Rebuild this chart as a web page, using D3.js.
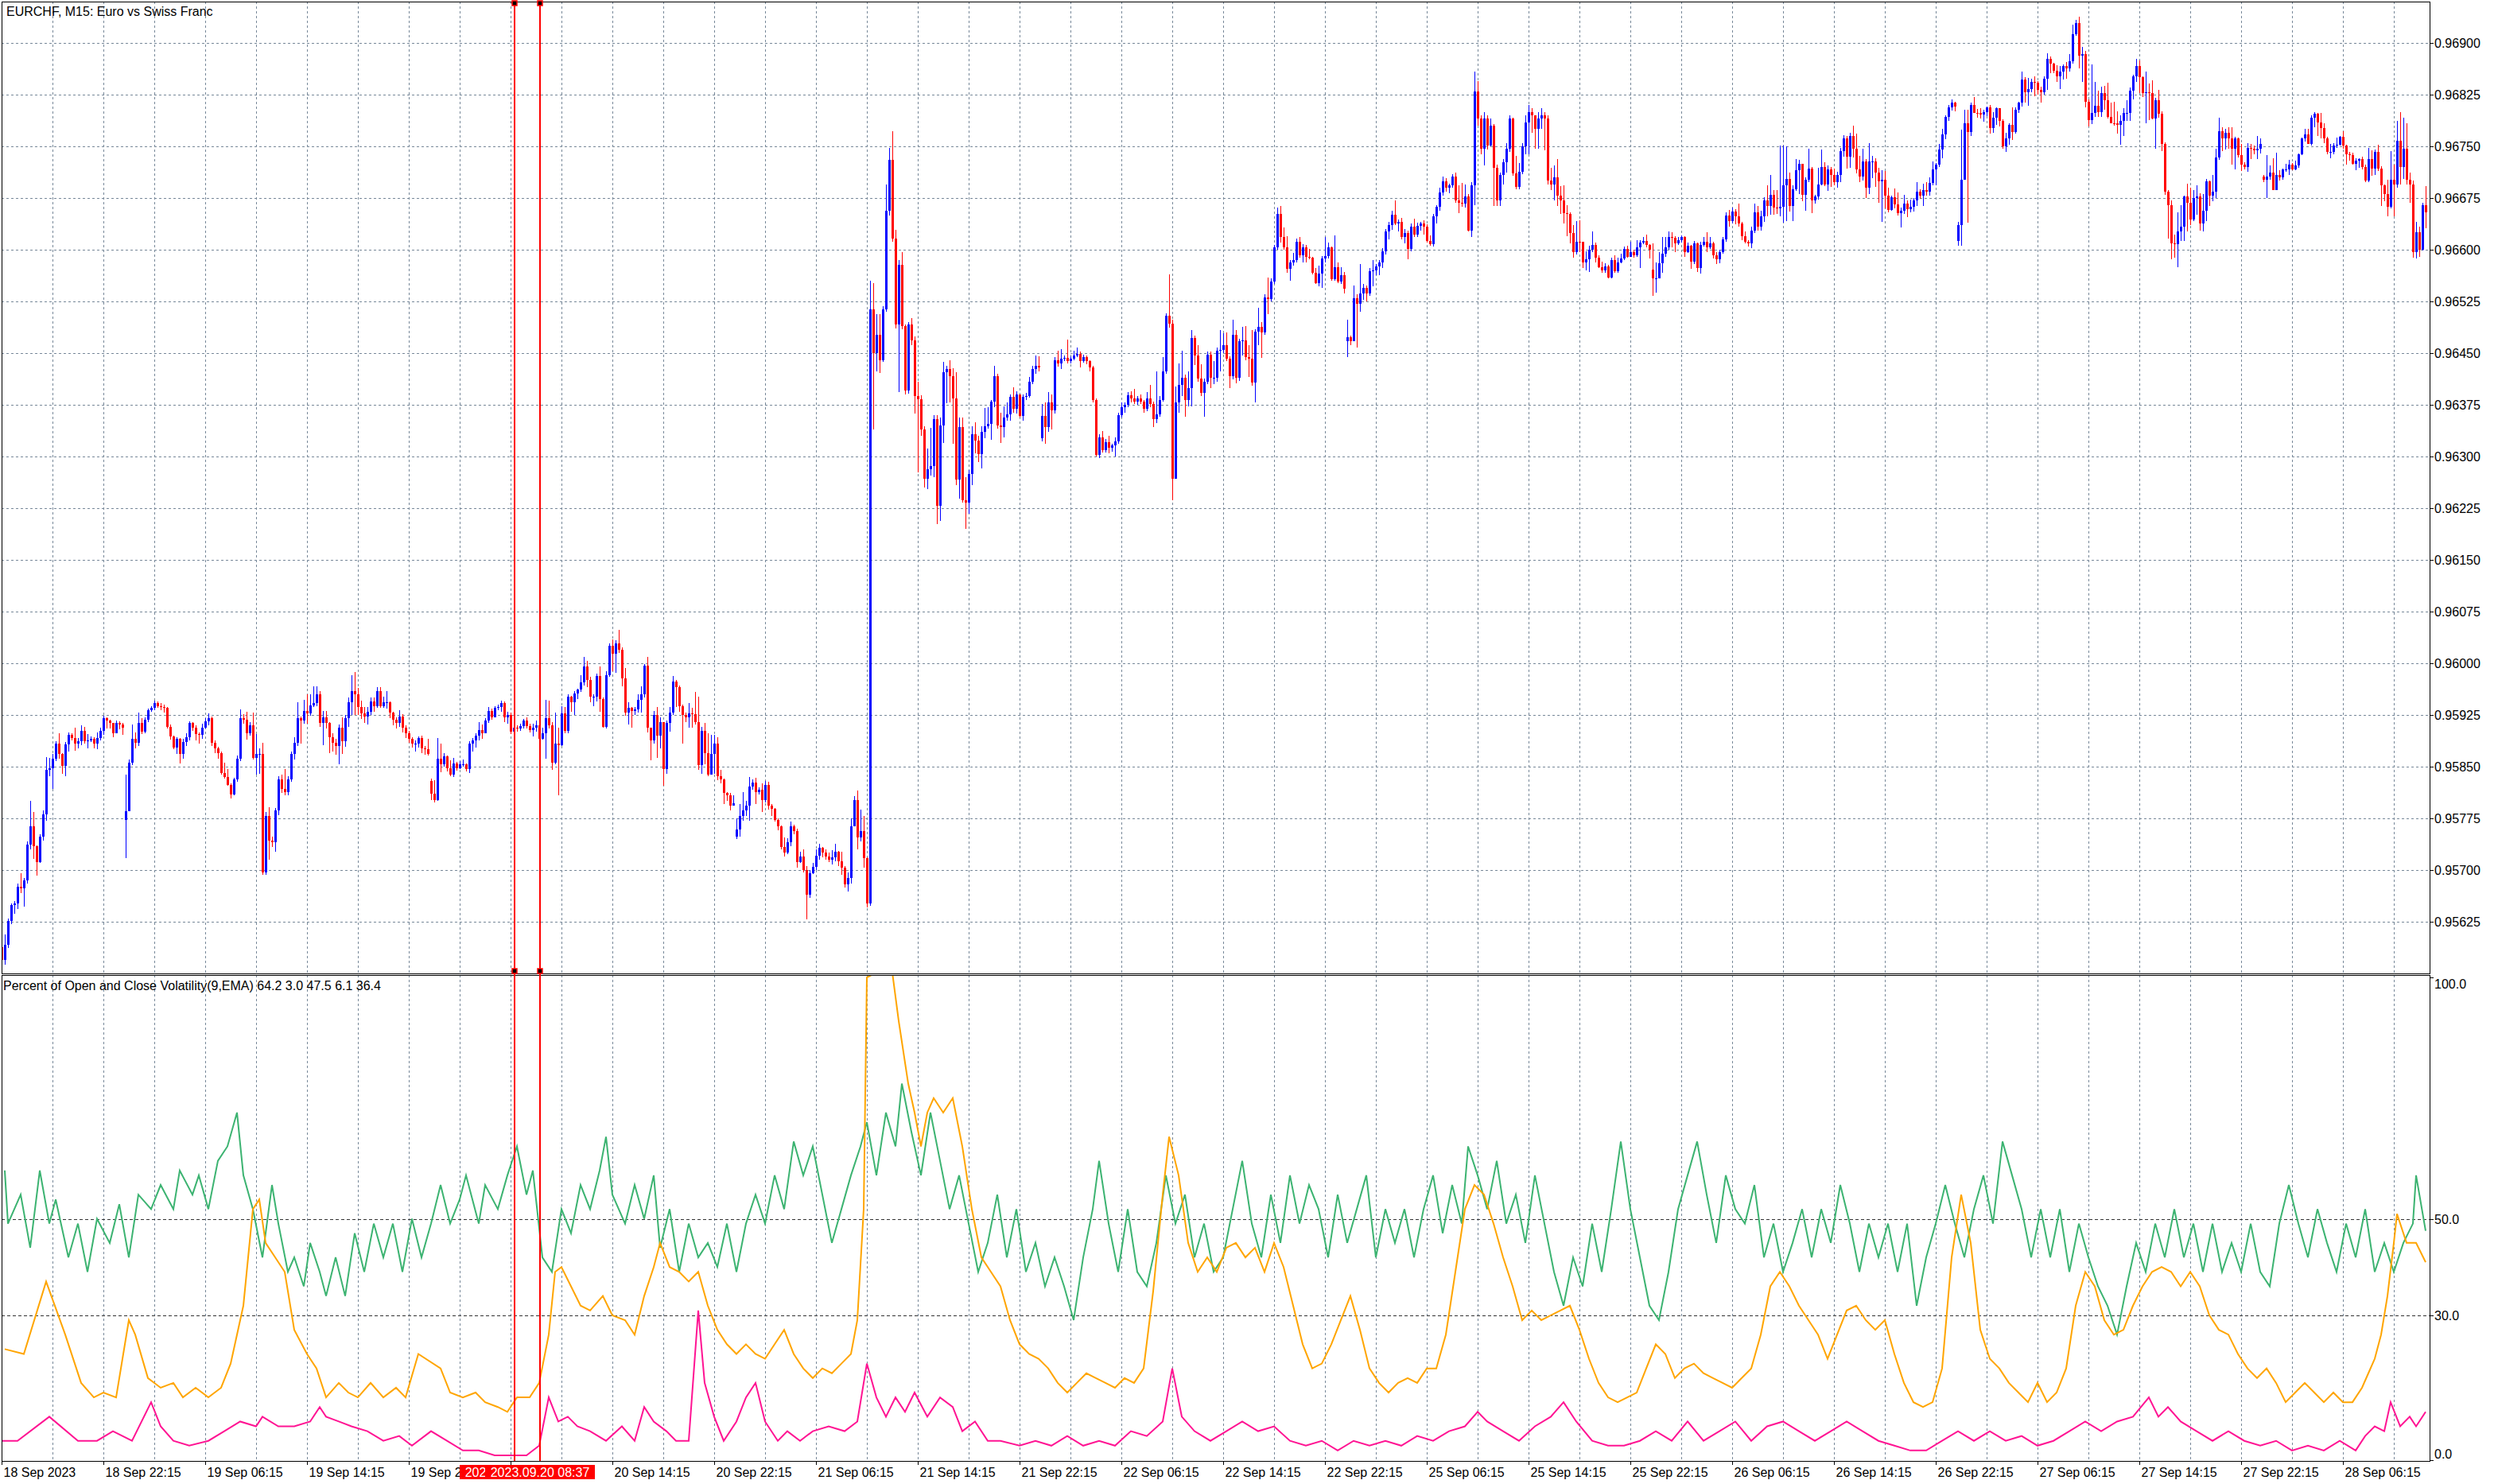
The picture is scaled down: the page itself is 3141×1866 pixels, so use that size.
<!DOCTYPE html>
<html><head><meta charset="utf-8">
<script src="https://cdn.jsdelivr.net/npm/d3@7"></script>
<style>body{margin:0;background:#fff;overflow:hidden} text{font-family:"Liberation Sans",Arial,sans-serif;font-size:16px}</style>
</head><body><svg id="c" width="3141" height="1866" xmlns="http://www.w3.org/2000/svg"></svg>
<script>
// prices stored as offsets in 0.00001 units above 0.95000
const closeP = [570,592,626,649,652,676,673,685,737,764,735,712,748,781,845,848,862,883,868,851,882,896,892,884,887,902,887,888,890,883,892,902,920,917,913,899,914,911,906,785,856,890,885,914,901,918,932,935,942,938,937,935,908,894,878,890,868,886,893,913,907,897,896,907,916,920,885,877,870,841,835,824,810,831,862,920,918,899,910,863,868,868,697,779,743,740,786,832,818,813,832,868,885,920,917,931,927,939,942,955,914,922,913,893,885,880,907,887,920,943,960,955,937,927,923,930,945,938,960,938,943,944,928,918,913,923,907,899,890,883,884,892,876,875,868,811,802,861,853,865,848,839,855,848,853,854,847,883,888,895,903,899,917,931,922,935,937,942,921,925,901,907,905,909,917,909,903,907,910,890,898,920,910,856,884,881,927,902,951,943,956,962,972,995,976,951,951,981,948,908,983,1025,1014,1029,1020,978,928,935,931,933,947,955,997,906,888,925,895,915,846,913,928,974,965,938,925,922,927,926,915,852,902,870,838,869,884,836,831,812,808,793,797,759,779,787,793,821,827,813,817,802,824,793,789,773,763,734,725,740,763,756,712,720,700,664,695,705,721,732,725,720,715,718,726,713,704,679,688,764,801,747,757,717,651,1514,1450,1476,1440,1514,1656,1730,1616,1491,1578,1489,1396,1491,1468,1388,1383,1339,1268,1281,1286,1354,1228,1345,1422,1427,1416,1384,1266,1343,1236,1233,1275,1332,1323,1303,1336,1344,1347,1380,1416,1345,1343,1357,1361,1386,1369,1390,1359,1386,1388,1408,1427,1432,1429,1359,1343,1378,1367,1440,1435,1442,1443,1438,1442,1446,1449,1439,1444,1438,1429,1382,1302,1328,1309,1321,1313,1316,1322,1360,1371,1375,1389,1384,1380,1384,1380,1369,1384,1376,1354,1361,1382,1424,1504,1493,1268,1379,1404,1414,1382,1399,1472,1446,1413,1392,1409,1448,1414,1414,1454,1455,1461,1442,1416,1476,1414,1467,1469,1444,1442,1407,1481,1488,1480,1531,1529,1554,1604,1652,1619,1604,1572,1581,1585,1612,1592,1604,1590,1588,1567,1551,1565,1587,1591,1604,1557,1575,1554,1563,1543,1473,1467,1530,1522,1536,1545,1537,1569,1570,1576,1582,1598,1627,1636,1651,1638,1640,1619,1624,1601,1634,1622,1635,1638,1633,1613,1608,1648,1662,1683,1699,1690,1693,1706,1672,1668,1667,1677,1628,1693,1830,1790,1747,1790,1751,1780,1719,1672,1709,1727,1747,1790,1711,1691,1713,1750,1785,1800,1795,1775,1790,1795,1790,1700,1695,1705,1678,1671,1653,1652,1624,1597,1612,1611,1581,1586,1600,1607,1588,1575,1570,1576,1560,1585,1569,1582,1587,1601,1590,1597,1592,1604,1610,1613,1607,1600,1558,1558,1580,1594,1604,1618,1617,1609,1614,1618,1597,1606,1583,1609,1573,1607,1612,1603,1609,1592,1586,1596,1615,1650,1641,1655,1649,1638,1620,1612,1609,1628,1654,1633,1648,1672,1663,1680,1661,1660,1662,1693,1703,1664,1688,1715,1725,1680,1701,1718,1672,1677,1695,1720,1695,1717,1708,1698,1709,1743,1761,1735,1765,1747,1717,1706,1728,1690,1728,1728,1712,1699,1702,1678,1658,1676,1666,1653,1657,1667,1659,1662,1671,1684,1679,1687,1684,1697,1717,1724,1745,1767,1793,1807,1814,1808,1636,1702,1783,1771,1810,1799,1798,1796,1800,1807,1777,1792,1805,1787,1750,1762,1781,1771,1803,1813,1847,1828,1833,1844,1842,1832,1828,1848,1877,1870,1860,1852,1859,1867,1863,1873,1913,1929,1881,1884,1815,1788,1798,1809,1800,1827,1817,1793,1784,1783,1781,1787,1798,1798,1831,1851,1867,1850,1827,1829,1827,1790,1817,1797,1754,1684,1665,1609,1608,1627,1634,1677,1668,1644,1675,1677,1638,1657,1699,1678,1684,1734,1772,1762,1770,1761,1747,1761,1737,1723,1720,1748,1747,1744,1747,1753,1701,1706,1712,1687,1709,1705,1716,1717,1724,1717,1722,1738,1761,1767,1754,1791,1797,1785,1777,1762,1742,1742,1751,1752,1764,1751,1738,1737,1725,1729,1731,1720,1700,1731,1718,1742,1718,1694,1681,1662,1702,1695,1758,1720,1747,1702,1695,1597,1625,1600,1665,1654];
const highP = [590,607,630,652,655,680,695,689,741,800,784,736,752,786,864,863,868,887,898,870,886,900,898,906,892,910,908,897,894,893,900,906,924,922,918,914,917,916,913,839,860,911,900,929,920,922,934,938,946,945,942,940,936,911,895,893,892,890,898,916,915,910,900,912,920,927,923,888,879,872,856,846,826,834,866,933,926,930,915,929,897,877,885,784,791,748,790,836,839,847,836,872,893,943,923,947,955,955,966,966,960,931,931,915,898,890,911,921,925,950,983,987,964,946,936,937,950,950,965,965,951,960,945,930,922,932,926,910,902,893,888,894,895,880,890,833,830,891,884,870,866,859,863,857,858,860,855,887,892,899,915,911,920,937,934,938,940,946,945,930,928,910,910,912,919,922,912,912,917,913,907,947,946,915,929,906,938,937,955,953,960,963,983,1009,1004,980,955,985,995,950,988,1029,1035,1033,1048,1023,993,943,937,937,955,966,999,1009,907,931,937,921,915,917,937,982,976,968,940,929,942,935,958,951,908,914,898,896,896,893,845,833,813,812,809,775,796,813,800,835,832,834,820,826,829,828,796,790,775,765,747,746,770,766,760,726,730,706,700,710,730,738,733,730,725,729,738,728,727,706,697,775,807,815,788,778,718,1555,1551,1506,1507,1518,1695,1748,1772,1629,1585,1596,1492,1495,1501,1474,1408,1389,1344,1311,1341,1360,1360,1356,1437,1431,1440,1428,1422,1357,1357,1270,1280,1344,1350,1330,1344,1370,1372,1382,1431,1420,1364,1373,1379,1390,1400,1395,1390,1390,1392,1415,1431,1446,1445,1376,1378,1394,1390,1444,1454,1456,1446,1470,1445,1454,1458,1452,1448,1446,1440,1431,1384,1332,1337,1325,1330,1319,1328,1364,1378,1378,1394,1395,1398,1388,1390,1382,1394,1404,1380,1424,1388,1444,1508,1564,1498,1401,1435,1454,1419,1424,1483,1475,1461,1434,1413,1452,1452,1438,1458,1484,1479,1480,1445,1499,1484,1471,1488,1489,1462,1483,1485,1516,1495,1535,1560,1558,1607,1661,1664,1632,1620,1585,1595,1616,1619,1608,1607,1601,1590,1574,1577,1591,1618,1610,1605,1621,1581,1575,1568,1498,1475,1548,1535,1579,1550,1548,1574,1585,1579,1585,1602,1630,1640,1656,1671,1644,1646,1630,1628,1638,1645,1639,1640,1643,1637,1621,1652,1665,1690,1706,1704,1696,1710,1712,1693,1697,1695,1681,1698,1858,1845,1795,1800,1795,1790,1782,1723,1712,1731,1755,1795,1792,1736,1726,1755,1795,1810,1805,1795,1800,1805,1800,1795,1719,1722,1731,1692,1693,1665,1654,1636,1642,1643,1612,1598,1606,1627,1610,1592,1583,1580,1578,1588,1592,1588,1594,1605,1606,1611,1600,1614,1614,1618,1622,1608,1609,1582,1597,1618,1618,1627,1625,1620,1618,1621,1620,1610,1607,1613,1610,1611,1618,1625,1618,1612,1596,1600,1619,1654,1658,1661,1659,1667,1640,1626,1614,1633,1667,1663,1656,1676,1693,1709,1686,1686,1751,1751,1750,1712,1694,1732,1730,1724,1705,1747,1720,1680,1719,1745,1727,1722,1720,1718,1713,1748,1766,1765,1770,1780,1768,1736,1747,1732,1755,1736,1733,1719,1715,1714,1690,1679,1689,1683,1661,1680,1672,1673,1675,1698,1688,1696,1698,1705,1728,1726,1754,1775,1795,1810,1818,1815,1640,1774,1803,1803,1813,1822,1804,1805,1803,1808,1810,1800,1806,1805,1789,1770,1784,1806,1806,1815,1858,1850,1849,1848,1851,1845,1836,1851,1885,1880,1871,1868,1867,1869,1872,1884,1926,1933,1938,1894,1888,1818,1869,1843,1831,1837,1838,1842,1814,1815,1801,1795,1805,1817,1835,1854,1877,1875,1852,1859,1841,1846,1820,1832,1801,1756,1687,1672,1622,1654,1665,1679,1696,1690,1686,1694,1682,1681,1703,1700,1708,1747,1792,1778,1775,1778,1778,1764,1763,1754,1727,1755,1753,1751,1765,1762,1708,1737,1722,1733,1741,1715,1718,1725,1730,1726,1729,1740,1763,1775,1775,1795,1800,1799,1798,1784,1764,1754,1755,1763,1765,1772,1752,1742,1741,1733,1733,1735,1723,1748,1744,1745,1752,1721,1695,1702,1743,1724,1787,1800,1792,1784,1712,1700,1640,1633,1668,1692];
const lowP = [566,563,587,622,636,643,667,647,680,730,716,692,710,743,772,836,818,858,862,840,836,872,888,873,876,881,883,876,886,877,875,888,896,905,905,893,898,904,896,717,797,852,877,880,897,898,915,930,932,935,932,928,905,889,875,869,855,862,880,888,902,888,883,890,905,910,880,870,862,838,833,822,804,808,828,858,912,889,895,860,838,840,693,693,715,733,726,780,812,809,808,828,860,880,883,912,912,924,937,938,908,881,905,870,872,867,853,868,879,908,925,925,925,919,913,911,925,930,935,935,935,934,920,910,905,908,900,892,885,878,872,878,870,867,866,801,798,800,842,850,843,836,835,844,847,850,843,841,872,878,888,890,898,913,918,921,932,930,915,912,897,895,901,902,905,905,900,894,901,888,889,862,905,845,853,808,880,898,898,930,925,948,958,968,965,944,938,945,930,906,905,980,988,986,1015,967,924,911,907,925,929,928,950,900,859,883,863,876,822,840,901,925,937,930,883,915,906,907,911,845,840,854,836,845,840,830,826,796,800,786,793,745,749,772,778,772,817,796,810,784,798,788,778,770,758,730,720,723,735,752,703,710,696,628,660,694,700,715,718,715,711,708,713,706,693,675,669,680,763,730,742,703,646,648,1339,1424,1421,1437,1510,1650,1612,1486,1393,1485,1390,1391,1462,1362,1277,1330,1255,1253,1272,1270,1202,1206,1320,1377,1379,1318,1258,1239,1233,1195,1217,1258,1305,1292,1283,1326,1340,1324,1372,1340,1320,1328,1352,1352,1363,1362,1356,1352,1382,1385,1405,1420,1423,1322,1319,1336,1339,1362,1430,1427,1438,1435,1435,1440,1444,1429,1436,1434,1423,1378,1300,1298,1306,1306,1305,1307,1300,1318,1357,1363,1372,1378,1376,1375,1376,1363,1366,1371,1343,1348,1358,1380,1420,1487,1236,1280,1363,1388,1358,1373,1373,1433,1408,1388,1358,1405,1399,1405,1408,1424,1450,1438,1399,1412,1406,1410,1446,1440,1415,1403,1378,1461,1443,1476,1506,1525,1550,1600,1610,1600,1567,1555,1577,1582,1588,1581,1581,1586,1564,1550,1547,1545,1581,1587,1555,1555,1552,1550,1536,1444,1462,1468,1458,1510,1527,1525,1533,1547,1563,1563,1573,1593,1615,1629,1636,1626,1615,1609,1586,1598,1618,1618,1628,1622,1610,1606,1605,1638,1656,1678,1684,1682,1690,1668,1653,1662,1661,1626,1618,1665,1780,1739,1722,1745,1750,1663,1663,1663,1695,1712,1742,1707,1688,1688,1710,1738,1738,1770,1747,1746,1775,1744,1695,1686,1671,1663,1652,1638,1620,1609,1589,1593,1597,1573,1570,1568,1597,1581,1573,1567,1567,1558,1558,1567,1566,1580,1585,1588,1590,1588,1590,1573,1608,1604,1587,1533,1538,1565,1567,1590,1600,1604,1597,1607,1610,1590,1595,1572,1579,1568,1565,1605,1597,1601,1587,1579,1580,1594,1611,1633,1638,1637,1634,1614,1609,1605,1602,1624,1628,1628,1640,1648,1651,1651,1652,1649,1639,1641,1655,1641,1685,1681,1670,1656,1698,1653,1667,1673,1693,1692,1685,1691,1694,1690,1698,1735,1718,1719,1734,1711,1698,1700,1675,1681,1704,1691,1668,1640,1660,1654,1656,1660,1650,1632,1652,1647,1654,1655,1663,1674,1663,1679,1678,1693,1694,1720,1733,1760,1787,1802,1801,1606,1606,1701,1639,1765,1798,1791,1790,1786,1794,1768,1770,1781,1779,1746,1742,1752,1759,1768,1798,1808,1814,1809,1828,1823,1825,1814,1825,1832,1856,1856,1843,1833,1847,1848,1858,1870,1910,1863,1843,1807,1779,1782,1793,1793,1793,1803,1790,1783,1780,1769,1752,1765,1787,1787,1818,1844,1827,1822,1783,1788,1789,1747,1792,1743,1680,1616,1586,1589,1575,1613,1613,1626,1636,1642,1651,1628,1626,1642,1663,1670,1675,1730,1743,1745,1747,1724,1716,1734,1714,1717,1713,1731,1738,1732,1740,1698,1675,1701,1686,1686,1700,1701,1713,1708,1715,1715,1719,1737,1757,1753,1751,1778,1765,1761,1755,1738,1733,1738,1748,1751,1747,1723,1729,1724,1715,1719,1717,1698,1698,1707,1709,1714,1663,1670,1648,1660,1649,1690,1695,1703,1695,1668,1588,1587,1590,1599,1631];
// bars whose open differs from the previous close (session opens): [bar, open]
const gapOpens = [[0,588],[39,773],[135,829],[231,748],[327,1326],[423,1467],[519,1571],[615,1613],[711,1706]];

const priceTicks = ["0.95625","0.95700","0.95775","0.95850","0.95925","0.96000","0.96075","0.96150","0.96225","0.96300","0.96375","0.96450","0.96525","0.96600","0.96675","0.96750","0.96825","0.96900"];
const timeLabels = ["18 Sep 2023","18 Sep 22:15","19 Sep 06:15","19 Sep 14:15","19 Sep 22:15","20 Sep 06:15","20 Sep 14:15","20 Sep 22:15","21 Sep 06:15","21 Sep 14:15","21 Sep 22:15","22 Sep 06:15","22 Sep 14:15","22 Sep 22:15","25 Sep 06:15","25 Sep 14:15","25 Sep 22:15","26 Sep 06:15","26 Sep 14:15","26 Sep 22:15","27 Sep 06:15","27 Sep 14:15","27 Sep 22:15","28 Sep 06:15"];
const indTicks = [0,30,50,100];
const indLevels = [30,50];

// indicator series as [bar, value]
const greenSeries = [[1,60],[2,49],[6,55],[9,44],[12,60],[15,49],[17,54],[21,42],[24,49],[27,39],[30,50],[34,45],[37,53],[40,42],[43,55],[47,52],[50,57],[54,52],[56,60],[60,55],[62,59],[65,52],[68,62],[71,65],[74,72],[76,59],[79,52],[82,42],[85,57],[87,49],[90,39],[92,42],[95,36],[97,45],[100,39],[102,34],[105,42],[108,34],[111,47],[114,39],[117,49],[120,42],[123,49],[126,39],[129,50],[132,42],[135,49],[138,57],[141,49],[144,54],[146,59],[150,49],[152,57],[156,52],[159,59],[162,65],[165,55],[167,60],[170,42],[173,39],[176,52],[179,47],[182,57],[185,52],[188,60],[190,67],[192,55],[196,49],[199,57],[202,50],[205,59],[207,44],[210,52],[213,39],[216,49],[219,42],[222,45],[225,40],[228,49],[231,39],[234,49],[237,55],[240,49],[243,59],[246,52],[249,66],[252,59],[255,65],[258,55],[261,45],[264,52],[267,59],[270,65],[272,70],[275,59],[278,72],[281,65],[283,78],[286,68],[289,59],[292,72],[295,62],[298,52],[301,59],[304,49],[307,39],[310,45],[313,55],[316,42],[319,52],[322,39],[325,45],[328,36],[331,42],[334,36],[337,29],[340,42],[343,52],[345,62],[348,49],[351,39],[354,52],[357,39],[360,36],[363,45],[366,59],[369,49],[372,55],[375,42],[378,49],[381,39],[384,42],[387,52],[390,62],[393,49],[396,42],[399,55],[402,45],[405,59],[408,49],[411,57],[414,52],[417,42],[420,55],[423,45],[426,52],[429,59],[432,42],[435,52],[438,45],[441,52],[444,42],[447,52],[450,59],[453,47],[456,57],[459,49],[461,65],[464,59],[467,52],[470,62],[473,49],[476,55],[479,45],[482,59],[485,49],[488,39],[491,32],[494,42],[497,36],[500,49],[503,39],[506,52],[509,66],[512,52],[515,42],[518,32],[521,29],[524,39],[527,52],[530,59],[533,66],[536,55],[539,45],[542,59],[545,52],[548,49],[551,57],[554,42],[557,49],[560,39],[563,45],[566,52],[569,42],[572,52],[575,45],[578,57],[581,49],[584,39],[587,49],[590,42],[593,49],[596,39],[599,49],[602,32],[605,42],[608,49],[611,57],[614,49],[617,42],[620,52],[623,59],[626,49],[629,66],[632,59],[635,52],[638,42],[641,52],[644,42],[647,52],[650,39],[653,49],[656,42],[659,36],[662,32],[665,26],[668,36],[671,45],[674,39],[677,49],[680,42],[683,52],[686,42],[689,49],[692,39],[695,49],[698,39],[701,45],[704,39],[707,49],[710,39],[713,36],[716,49],[719,57],[722,49],[725,42],[728,52],[731,45],[734,39],[737,49],[740,42],[743,52],[746,39],[749,45],[752,39],[755,45],[758,49],[759,59],[762,47.5]];
const orangeSeries = [[1,23],[7,22],[14,37],[20,26],[25,16],[29,13],[32,14],[36,13],[40,29],[42,26],[46,17],[50,15],[54,16],[57,13],[61,15],[65,13],[69,15],[72,20],[76,32],[79,52],[81,54],[83,45],[86,42],[89,39],[92,27],[96,22],[99,19],[102,13],[106,16],[109,14],[112,13],[116,16],[120,13],[124,15],[127,13],[131,22],[138,19],[141,14],[145,13],[149,14],[152,12],[156,11],[159,10],[162,13],[166,13],[169,16],[172,26],[174,39],[176,40],[179,36],[182,32],[185,31],[189,34],[192,30],[196,29],[199,26],[202,34],[205,40],[207,45],[210,40],[213,39],[216,37],[219,39],[222,32],[225,27],[228,24],[231,22],[234,24],[237,22],[240,21],[243,24],[246,27],[249,22],[252,19],[255,17],[258,19],[261,18],[264,20],[267,22],[269,29],[271,52],[272,100],[275,101],[280,101],[282,91],[285,78],[287,72],[289,65],[291,72],[293,75],[296,72],[299,75],[302,65],[305,52],[308,42],[311,39],[314,36],[317,29],[320,24],[323,22],[326,21],[329,19],[332,16],[335,14],[338,16],[341,18],[344,17],[347,16],[350,15],[353,17],[356,16],[359,19],[362,35],[365,55],[367,67],[370,59],[373,45],[376,39],[379,42],[382,39],[385,44],[388,45],[391,42],[394,44],[397,39],[400,45],[403,40],[406,32],[409,24],[412,19],[415,20],[418,24],[421,29],[424,34],[427,27],[430,19],[433,16],[436,14],[439,16],[442,17],[445,16],[448,19],[451,19],[454,26],[457,39],[460,52],[463,57],[466,55],[469,49],[472,42],[475,36],[478,29],[481,31],[484,29],[487,30],[490,31],[493,32],[496,27],[499,21],[502,16],[505,13],[508,12],[511,13],[514,14],[517,19],[520,24],[523,22],[526,17],[529,19],[532,20],[535,18],[538,17],[541,16],[544,15],[547,17],[550,19],[553,26],[556,36],[559,39],[562,36],[565,32],[568,29],[571,26],[574,21],[577,26],[580,31],[583,32],[586,29],[589,27],[592,29],[595,22],[598,16],[601,12],[604,11],[607,12],[610,19],[613,42],[616,55],[619,45],[622,27],[625,21],[628,19],[631,16],[634,14],[637,12],[640,16],[643,12],[646,14],[649,19],[652,32],[655,39],[658,36],[661,29],[664,26],[667,27],[670,32],[673,36],[676,39],[679,40],[682,39],[685,36],[688,39],[691,36],[694,30],[697,27],[700,26],[703,22],[706,19],[709,17],[712,19],[715,16],[718,12],[721,14],[724,16],[727,14],[730,12],[733,14],[736,12],[739,12],[742,15],[744,18],[746,21],[748,26],[750,34],[752,45],[753,51],[756,45],[759,45],[762,41]];
const pinkSeries = [[0,4],[5,4],[15,9],[24,4],[30,4],[35,6],[41,4],[47,12],[50,7],[54,4],[59,3],[65,4],[70,6],[75,8],[80,7],[82,9],[87,7],[92,7],[97,8],[100,11],[102,9],[106,8],[110,7],[115,6],[120,4],[125,5],[129,3],[135,6],[140,4],[145,2],[150,2],[155,1],[160,1],[165,1],[169,3],[172,13],[175,8],[178,9],[181,7],[185,6],[190,4],[195,7],[199,4],[202,11],[205,8],[209,6],[212,4],[216,4],[219,31],[221,16],[224,9],[227,4],[231,8],[234,13],[237,16],[240,8],[244,4],[247,6],[251,4],[255,6],[260,7],[265,6],[269,8],[272,20],[275,13],[278,9],[281,13],[284,10],[287,14],[291,9],[295,13],[299,11],[302,6],[306,8],[310,4],[314,4],[320,3],[325,4],[330,3],[335,5],[340,3],[345,4],[350,3],[355,6],[360,5],[365,8],[368,19],[371,9],[375,6],[380,4],[385,6],[390,8],[395,6],[400,7],[405,4],[410,3],[415,4],[420,2],[425,4],[430,3],[435,4],[440,3],[445,5],[450,4],[455,6],[460,7],[464,10],[467,8],[472,6],[477,4],[482,7],[487,9],[491,12],[495,8],[500,4],[505,3],[510,3],[515,4],[520,6],[525,4],[530,8],[535,4],[540,6],[545,8],[550,4],[555,7],[560,8],[565,6],[570,4],[575,6],[580,8],[585,6],[590,4],[595,3],[600,2],[605,2],[610,4],[615,6],[620,4],[625,6],[630,4],[635,5],[640,3],[645,4],[650,6],[655,8],[660,6],[665,8],[670,9],[675,13],[678,9],[681,11],[685,8],[690,6],[695,4],[700,6],[705,4],[710,3],[715,4],[720,2],[725,3],[730,2],[735,4],[740,2],[743,5],[746,7],[749,6],[751,12],[754,7],[757,9],[759,7],[762,10]];

const markers = [{bar:161.25, label:"2023.09.20 06:37"},{bar:169.25, label:"2023.09.20 08:37"}];

// ---------- layout ----------
const L = 2, R = 3055, PT = 2, PB = 1224, IT = 1226, IB = 1837;
const svg = d3.select("#c");
const nBars = closeP.length;
const x = d3.scaleLinear().domain([0, nBars - 1]).range([2, 2 + 4 * (nBars - 1)]);
const toPrice = v => 0.95 + v / 100000;
const y = d3.scaleLinear().domain([0.95625, 0.969]).range([1159, 54]);
const yi = d3.scaleLinear().domain([0, 100]).range([1836, 1229]);

const gapMap = new Map(gapOpens);
const bars = closeP.map((c, i) => {
  const o = gapMap.has(i) ? gapMap.get(i) : closeP[i - 1];
  return {i, o: toPrice(o), c: toPrice(c), h: toPrice(Math.max(highP[i], o, c)), l: toPrice(Math.min(lowP[i], o, c))};
});

const defs = svg.append("defs");
defs.append("clipPath").attr("id", "cp").append("rect").attr("x", L).attr("y", PT).attr("width", R - L).attr("height", PB - PT);
defs.append("clipPath").attr("id", "ci").append("rect").attr("x", L).attr("y", IT).attr("width", R - L).attr("height", IB - IT);

const gridColor = "#778899";
const gridG = svg.append("g").attr("shape-rendering", "crispEdges");
const vgrid = d3.range(16, nBars, 16).map(b => Math.round(x(b)) + 0.5);
vgrid.forEach(gx => {
  gridG.append("line").attr("x1", gx).attr("x2", gx).attr("y1", PT).attr("y2", PB).attr("stroke", gridColor).attr("stroke-dasharray", "3,3");
  gridG.append("line").attr("x1", gx).attr("x2", gx).attr("y1", IT).attr("y2", IB).attr("stroke", gridColor).attr("stroke-dasharray", "3,3");
});
priceTicks.forEach(t => {
  const gy = Math.round(y(+t)) + 0.5;
  gridG.append("line").attr("x1", L).attr("x2", R).attr("y1", gy).attr("y2", gy).attr("stroke", gridColor).attr("stroke-dasharray", "3,3");
});
indLevels.forEach(v => {
  const gy = Math.round(yi(v)) + 0.5;
  gridG.append("line").attr("x1", L).attr("x2", R).attr("y1", gy).attr("y2", gy).attr("stroke", "#333").attr("stroke-dasharray", "4,3");
});

// candles
const cg = svg.append("g").attr("clip-path", "url(#cp)").attr("shape-rendering", "crispEdges");
bars.forEach(b => {
  const cx = Math.round(x(b.i));
  const col = b.c > b.o ? "#0000ff" : (b.c < b.o ? "#ff0000" : "#0000ff");
  const yh = Math.round(y(b.h)), yl = Math.round(y(b.l));
  cg.append("rect").attr("x", cx).attr("y", yh).attr("width", 1).attr("height", Math.max(1, yl - yh)).attr("fill", col);
  const yt = Math.round(y(Math.max(b.o, b.c))), yb = Math.round(y(Math.min(b.o, b.c)));
  cg.append("rect").attr("x", cx - 1).attr("y", yt).attr("width", 3).attr("height", Math.max(1, yb - yt)).attr("fill", col);
});

// indicator lines
const ig = svg.append("g").attr("clip-path", "url(#ci)");
const line = d3.line().x(d => x(d[0])).y(d => yi(d[1]));
[[greenSeries, "#3cb371"], [orangeSeries, "#ffa500"], [pinkSeries, "#ff1493"]].forEach(([vals, col]) => {
  ig.append("path").attr("d", line(vals)).attr("fill", "none").attr("stroke", col).attr("stroke-width", 2);
});

// frames
const fg = svg.append("g").attr("shape-rendering", "crispEdges").attr("fill", "none").attr("stroke", "#000");
fg.append("rect").attr("x", L + 0.5).attr("y", PT + 0.5).attr("width", R - L).attr("height", PB - PT);
fg.append("rect").attr("x", L + 0.5).attr("y", IT + 0.5).attr("width", R - L).attr("height", IB - IT);

// axes
const ag = svg.append("g");
priceTicks.forEach(t => {
  const gy = Math.round(y(+t)) + 0.5;
  ag.append("line").attr("x1", R).attr("x2", R + 5).attr("y1", gy).attr("y2", gy).attr("stroke", "#000").attr("shape-rendering", "crispEdges");
  ag.append("text").attr("x", R + 6).attr("y", gy).attr("dy", "0.36em").text(t);
});
indTicks.forEach(v => {
  const gy = Math.round(yi(v)) + 0.5;
  ag.append("line").attr("x1", R).attr("x2", R + 5).attr("y1", gy).attr("y2", gy).attr("stroke", "#000").attr("shape-rendering", "crispEdges");
  const off = v === 100 ? 8 : (v === 0 ? -8 : 0);
  ag.append("text").attr("x", R + 6).attr("y", gy + off).attr("dy", "0.36em").text(v.toFixed(1));
});
timeLabels.forEach((t, k) => {
  const tx = Math.round(x(k * 32)) + 0.5;
  ag.append("line").attr("x1", tx).attr("x2", tx).attr("y1", IB).attr("y2", IB + 5).attr("stroke", "#000").attr("shape-rendering", "crispEdges");
  ag.append("text").attr("x", tx + 2).attr("y", 1857).text(t);
});

svg.append("text").attr("x", 8).attr("y", 20).text("EURCHF, M15:  Euro vs Swiss Franc");
svg.append("text").attr("x", 4).attr("y", 1245).text("Percent of Open and Close Volatility(9,EMA) 64.2 3.0 47.5 6.1 36.4");

// vertical marker lines with their time labels
const mg = svg.append("g");
markers.forEach(m => {
  const mx = Math.round(x(m.bar));
  mg.append("rect").attr("x", mx - 1).attr("y", PT).attr("width", 2).attr("height", IB - PT).attr("fill", "#ff0000");
  [4, 1221].forEach(sy => mg.append("rect").attr("x", mx - 3).attr("y", sy - 3).attr("width", 6).attr("height", 6).attr("fill", "#000").attr("stroke", "#ff0000").attr("stroke-width", 1.5));
});
markers.forEach(m => {
  const mx = Math.round(x(m.bar));
  mg.append("rect").attr("x", mx - 69).attr("y", 1842).attr("width", 138).attr("height", 18).attr("fill", "#ff0000");
  mg.append("text").attr("x", mx).attr("y", 1857).attr("text-anchor", "middle").attr("fill", "#fff").text(m.label);
});
</script></body></html>
